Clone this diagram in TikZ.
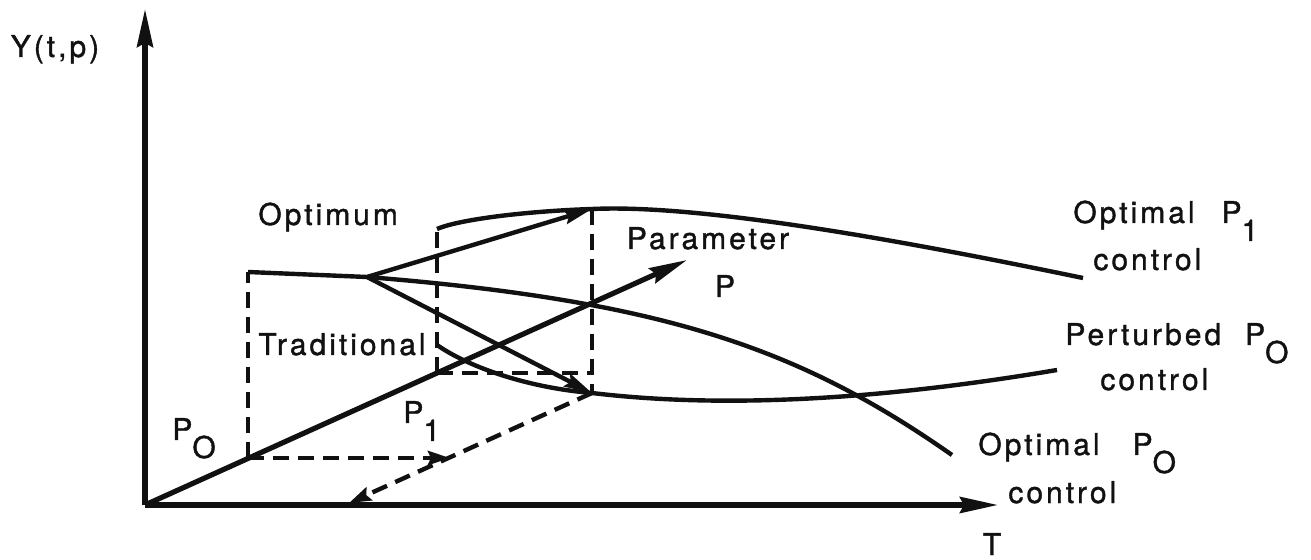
\documentclass[tikz,border=0pt]{standalone}
\usepackage{fontspec}
\newfontfamily\grfont{TeX Gyre Heros}[LetterSpace=10,FakeBold=1.2]
\usepackage{tikz}
\usetikzlibrary{arrows.meta}
\definecolor{grInk}{HTML}{111111}
\newcommand{\lowsub}[1]{\raisebox{-0.6em}{#1}}
\tikzset{
  gr diagram/.style={font=\grfont\fontsize{15}{18}\selectfont, text=grInk,
    line join=round},
  gr axis/.style={draw=grInk, line width=2.6pt,
    -{Stealth[length=19pt,width=8pt,inset=2pt]}},
  gr curve/.style={draw=grInk, line width=2.2pt},
  gr arrow/.style={gr curve, -{Stealth[length=14pt,width=7pt,inset=2pt]}},
  gr dashed/.style={draw=grInk, line width=2.2pt, dash pattern=on 8pt off 4.5pt},
  gr dashed arrow/.style={gr dashed, -{Stealth[length=11pt,width=7pt,inset=1.5pt]}},
  gr label/.style={inner sep=0pt, anchor=base}
}
\begin{document}
\begin{tikzpicture}[gr diagram,x=0.5pt,y=-0.5pt]
\useasboundingbox (0,0) rectangle (1311,560);
% axes
\coordinate (O) at (145,505);
\coordinate (Ytip) at (145,9);
\coordinate (Ttip) at (998,505);
\coordinate (Ptip) at (687,260);
% points in the T/P plane
\coordinate (A) at (248,458);
\coordinate (B) at (437,373);
\coordinate (M) at (450,458);
\coordinate (N) at (349,503);
\coordinate (Q) at (592,373);
% points on the curves
\coordinate (E) at (248,272);
\coordinate (D) at (367,277);
\coordinate (F) at (437,229);
\coordinate (G) at (592,209);
\coordinate (K) at (437,345);
\coordinate (H) at (592,393);
\coordinate (Pend) at (952,455);
\coordinate (Oend) at (1083,278);
\coordinate (Rend) at (1057,370);
\draw[gr axis] (O) -- (Ytip);
\draw[gr axis] (O) -- (Ttip);
\draw[gr axis] (O) -- (Ptip);
% dashed projections
\draw[gr dashed] (A) -- (E);
\draw[gr dashed arrow] (A) -- (M);
\draw[gr dashed] (B) -- (F);
\draw[gr dashed] (B) -- (Q);
\draw[gr dashed] (G) -- (H);
\draw[gr dashed arrow] (H) -- (N);
% control curves
\draw[gr curve] (E) -- (D) .. controls (667,301) and (802,350) .. (Pend);
\draw[gr curve] (F) .. controls (460,219) and (530,211) .. (G)
  .. controls (700,204) and (900,240) .. (Oend);
\draw[gr curve] (K) .. controls (470,368) and (530,388) .. (H)
  .. controls (700,406) and (850,405) .. (Rend);
\draw[gr arrow] (D) -- (G);
\draw[gr arrow] (D) -- (H);
% labels
\node[gr label] (yname) at (55,57) {Y(t,p)};
\node[gr label] (tname) at (992,555) {T};
\node[gr label,anchor=base west] (optimum) at (258,225) {Optimum};
\node[gr label,anchor=base west] (trad) at (258,355) {Traditional};
\node[gr label,anchor=base west] (pzero) at (172,440) {P\lowsub{O}};
\node[gr label,anchor=base west] (pone) at (403,423) {P\lowsub{1}};
\node[gr label] (param) at (708,249) {Parameter};
\node[gr label] (pname) at (725,297) {P};
\node[gr label,anchor=base west] (optone) at (1073,223) {Optimal\hspace{0.9em}P\lowsub{1}};
\node[gr label,anchor=base west] (optoneb) at (1093,270) {control};
\node[gr label,anchor=base west] (pert) at (1065,345) {Perturbed\hspace{0.8em}P\lowsub{O}};
\node[gr label,anchor=base west] (pertb) at (1100,390) {control};
\node[gr label,anchor=base west] (optzero) at (978,455) {Optimal\hspace{1.1em}P\lowsub{O}};
\node[gr label,anchor=base west] (optzerob) at (1008,503) {control};
\end{tikzpicture}
\end{document}
